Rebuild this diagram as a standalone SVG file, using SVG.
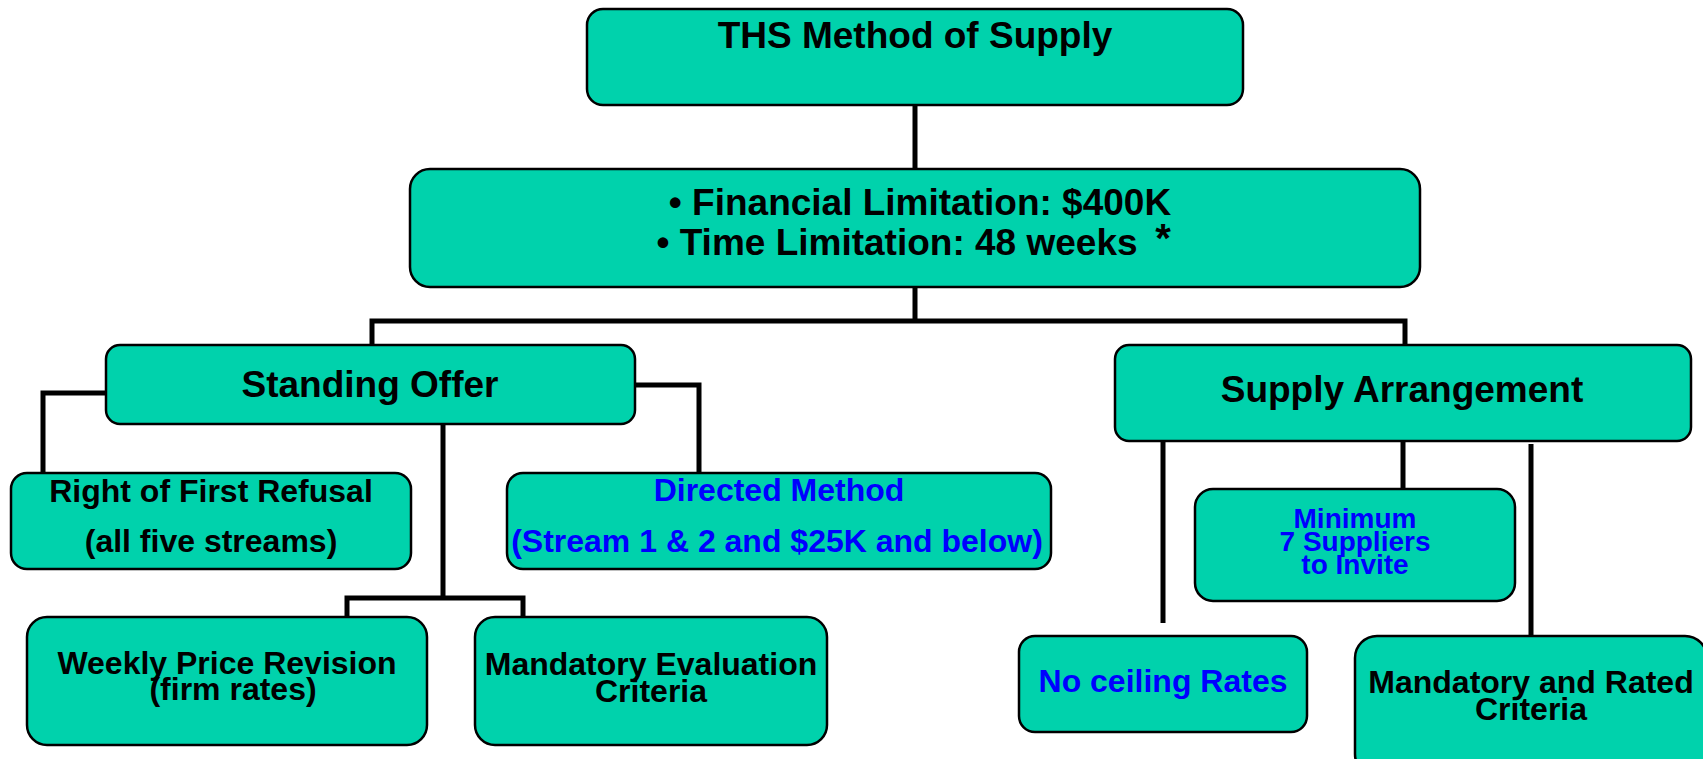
<svg xmlns="http://www.w3.org/2000/svg" width="1703" height="759" viewBox="0 0 1703 759">
<style>
.box{fill:#00D2AC;stroke:#000;stroke-width:2.5}
.t{font-family:"Liberation Sans",Arial,sans-serif;font-weight:bold;text-anchor:middle;fill:#000}
.b{fill:#0000FF}
.c{fill:none;stroke:#000;stroke-width:5}
</style>
<rect width="1703" height="759" fill="#fff"/>
<g id="connectors">
<path class="c" d="M915 105V169"/>
<path class="c" d="M915 287V321M372 345V321H1405V345"/>
<path class="c" d="M106 393H43V473M635 385H699V473"/>
<path class="c" d="M443 424V598M347 617V598H523V617"/>
<path class="c" d="M1163 441V623M1403 441V489M1531 444V636"/>
</g>
<g id="n-ths">
<rect class="box" x="587" y="9" width="656" height="96" rx="16"/>
<text class="t" x="915" y="48" font-size="37">THS Method of Supply</text>
</g>
<g id="n-limits">
<rect class="box" x="410" y="169" width="1010" height="118" rx="20"/>
<text class="t" x="920" y="215" font-size="37">• Financial Limitation: $400K</text>
<text class="t" x="897" y="255" font-size="37">• Time Limitation: 48 weeks</text>
<text class="t" x="1163" y="252" font-size="40">*</text>
</g>
<g id="n-standing">
<rect class="box" x="106" y="345" width="529" height="79" rx="14"/>
<text class="t" x="370" y="397" font-size="37">Standing Offer</text>
</g>
<g id="n-supply">
<rect class="box" x="1115" y="345" width="576" height="96" rx="14"/>
<text class="t" x="1402" y="402" font-size="37">Supply Arrangement</text>
</g>
<g id="n-rofr">
<rect class="box" x="11" y="473" width="400" height="96" rx="16"/>
<text class="t" x="211" y="502" font-size="32">Right of First Refusal</text>
<text class="t" x="211" y="552" font-size="32">(all five streams)</text>
</g>
<g id="n-directed">
<rect class="box" x="507" y="473" width="544" height="96" rx="16"/>
<text class="t b" x="779" y="501" font-size="32">Directed Method</text>
<text class="t b" x="777" y="552" font-size="32">(Stream 1 &amp; 2 and $25K and below)</text>
</g>
<g id="n-minimum">
<rect class="box" x="1195" y="489" width="320" height="112" rx="18"/>
<text class="t b" x="1355" y="528" font-size="28">Minimum</text>
<text class="t b" x="1355" y="551" font-size="28">7 Suppliers</text>
<text class="t b" x="1355" y="574" font-size="28">to Invite</text>
</g>
<g id="n-weekly">
<rect class="box" x="27" y="617" width="400" height="128" rx="20"/>
<text class="t" x="227" y="674" font-size="32">Weekly Price Revision</text>
<text class="t" x="233" y="700" font-size="32">(firm rates)</text>
</g>
<g id="n-mandatory-eval">
<rect class="box" x="475" y="617" width="352" height="128" rx="20"/>
<text class="t" x="651" y="675" font-size="32">Mandatory Evaluation</text>
<text class="t" x="651" y="702" font-size="32">Criteria</text>
</g>
<g id="n-noceiling">
<rect class="box" x="1019" y="636" width="288" height="96" rx="16"/>
<text class="t b" x="1163" y="692" font-size="32">No ceiling Rates</text>
</g>
<g id="n-mandatory-rated">
<rect class="box" x="1355" y="636" width="352" height="140" rx="22"/>
<text class="t" x="1531" y="693" font-size="32">Mandatory and Rated</text>
<text class="t" x="1531" y="720" font-size="32">Criteria</text>
</g>
</svg>
